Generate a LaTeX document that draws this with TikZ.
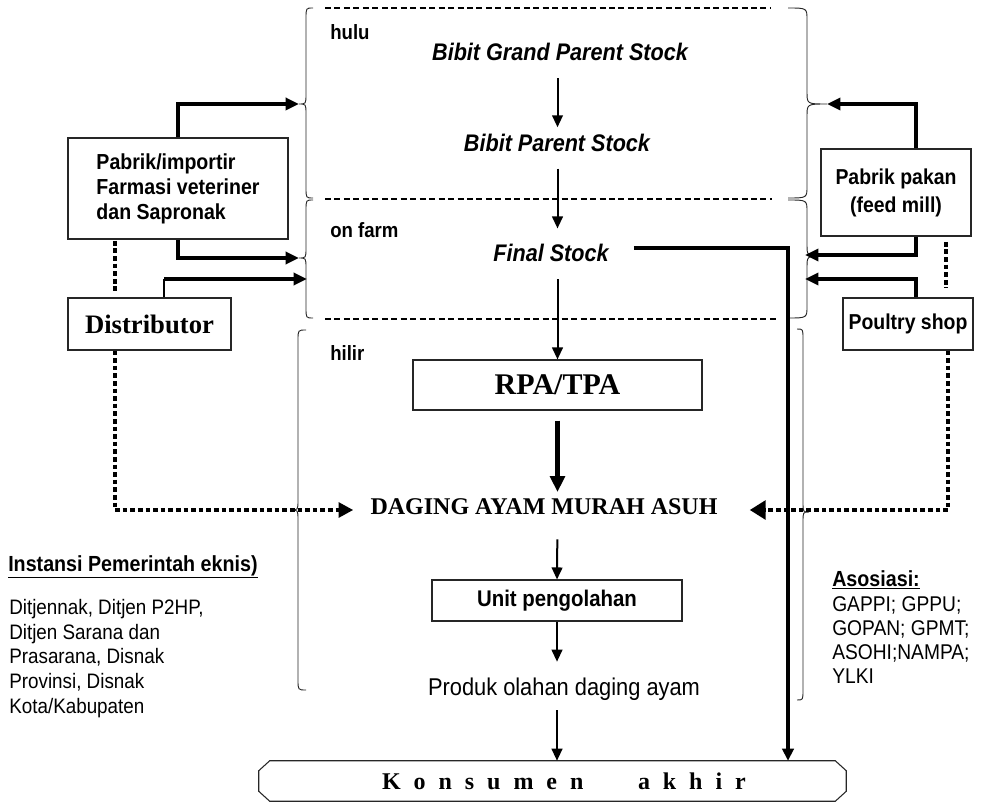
\documentclass[tikz,border=0pt]{standalone}
\usepackage{fontspec}
\setmainfont{Liberation Serif}
\newfontfamily\arialn[FakeStretch=0.9]{Liberation Sans}
\usetikzlibrary{arrows.meta}
\newcommand\sfs[2]{\arialn\fontsize{#1pt}{#2pt}\selectfont}
\newcommand\rms[2]{\rmfamily\fontsize{#1pt}{#2pt}\selectfont}
% xe, xv, xt, y1, ym, y2, r
\newcommand\mybrace[7]{\draw[bracel] ({#1},{#4}) .. controls ({#2},{#4}) .. ({#2},{#4+#7}) -- ({#2},{#5-#7}) .. controls ({#2},{#5}) .. ({#3},{#5}) .. controls ({#2},{#5}) .. ({#2},{#5+#7}) -- ({#2},{#6-#7}) .. controls ({#2},{#6}) .. ({#1},{#6});}
\begin{document}
\begin{tikzpicture}[x=0.75pt,y=-0.75pt,
  box/.style={draw=black!85,line width=0.8pt,inner sep=0pt},
  txt/.style={inner sep=0pt},
  arr/.style={line width=1.5pt,-{Triangle[length=9pt,width=8pt]}},
  tarr/.style={line width=3pt,-{Triangle[length=10pt,width=9pt]}},
  dotl/.style={line width=3.5pt,dash pattern=on 3.5pt off 2.2pt},
  dashl/.style={line width=0.9pt,dash pattern=on 4.5pt off 2.6pt},
  bracel/.style={line width=0.7pt,black!85}]
\useasboundingbox (0,0) rectangle (981,802);

% section labels
\node[txt,anchor=west,font=\sfs{15.5}{18}\bfseries] (hulu) at (330,32) {hulu};
\node[txt,anchor=west,font=\sfs{15.5}{18}\bfseries] (onfarm) at (330,230) {on farm};
\node[txt,anchor=west,font=\sfs{15.5}{18}\bfseries] (hilir) at (330,353) {hilir};

% main column
\node[txt,font=\sfs{18}{20}\bfseries\itshape] (gps) at (560,52) {Bibit Grand Parent Stock};
\node[txt,font=\sfs{18}{20}\bfseries\itshape] (ps) at (557,143) {Bibit Parent Stock};
\node[txt,font=\sfs{18}{20}\bfseries\itshape] (fs) at (551,253) {Final Stock};
\node[box,minimum width=216.75pt,minimum height=37.5pt,font=\rms{22.5}{24}\bfseries] (rpa) at (557.5,385) {RPA/TPA};
\node[txt,font=\rms{18}{20}\bfseries] (daging) at (544,507) {DAGING AYAM MURAH ASUH};
\node[box,minimum width=187.5pt,minimum height=30.75pt,font=\sfs{17}{19}\bfseries] (unit) at (557,600.5) {Unit pengolahan};
\node[txt,font=\sfs{18.2}{20}] (produk) at (564,689) {Produk olahan daging ayam};
\node[txt,minimum width=440.25pt,minimum height=30pt,font=\rms{18}{20}\bfseries] (kons) at (552.5,781)
  {\hspace*{17.2pt}K\kern9.7pt o\kern9.7pt n\kern9.7pt s\kern9.7pt u\kern9.7pt m\kern9.7pt e\kern9.7pt n\hspace{41pt}a\kern9.7pt k\kern9.7pt h\kern9.7pt i\kern9.7pt r};
\draw[box] ([xshift=8.25pt]kons.north west) -- ([xshift=-8.25pt]kons.north east) -- ([yshift=-7.5pt]kons.north east) -- ([yshift=7.5pt]kons.south east) -- ([xshift=-8.25pt]kons.south east) -- ([xshift=8.25pt]kons.south west) -- ([yshift=7.5pt]kons.south west) -- ([yshift=-7.5pt]kons.north west) -- cycle;

% side boxes
\node[box,minimum width=165pt,minimum height=75.75pt,align=left,font=\sfs{16.3}{18.75}\bfseries] (pab) at (178,188.5) {Pabrik/importir\\Farmasi veteriner\\dan Sapronak};
\node[box,minimum width=122.25pt,minimum height=39pt,font=\rms{20}{22}\bfseries] (dist) at (149.5,324) {Distributor};
\node[box,minimum width=112.5pt,minimum height=65.25pt,align=center,font=\sfs{16.2}{21}\bfseries] (pakan) at (896,192.5) {Pabrik pakan\\(feed mill)};
\node[box,minimum width=97.5pt,minimum height=39pt,font=\sfs{16.2}{18}\bfseries] (poultry) at (908,324) {Poultry shop};

% side texts
\node[txt,anchor=west,font=\sfs{16.4}{19}\bfseries] (inst) at (8,567) {\underline{Instansi Pemerintah eknis)}};
\node[txt,anchor=north west,align=left,font=\sfs{15.7}{18.5}] (gov) at (9,599) {Ditjennak, Ditjen P2HP,\\Ditjen Sarana dan\\Prasarana, Disnak\\Provinsi, Disnak\\Kota/Kabupaten};
\node[txt,anchor=west,font=\sfs{16.4}{19}\bfseries] (asos) at (832,580) {\underline{Asosiasi:}};
\node[txt,anchor=north west,align=left,font=\sfs{16}{18.2}] (assoc) at (832,596) {GAPPI; GPPU;\\GOPAN; GPMT;\\ASOHI;NAMPA;\\YLKI};

% coordinates
\coordinate (LhT) at (299,104);
\coordinate (LfT) at (299,258);
\coordinate (LfE) at (307,279);
\coordinate (dk) at (164,279);
\coordinate (ldx) at (115,0);
\coordinate (RhT) at (827,104);
\coordinate (RfE) at (805,255);
\coordinate (RfE2) at (805,279);
\coordinate (pkx) at (916,0);
\coordinate (pdx) at (946,0);
\coordinate (psx) at (948,0);
\coordinate (fsx) at (788,0);

% braces
\mybrace{313}{306}{299}{8}{104}{198}{10}
\mybrace{313}{306}{299}{200}{258}{318}{10}
\mybrace{306}{298}{291}{330}{510}{690}{10}
\mybrace{788}{807}{827}{8}{104}{198}{12}
\mybrace{788}{807}{822}{200}{256}{318}{12}
\mybrace{797}{803}{809}{329}{512}{700}{10}

% dashed separators
\draw[dashl] (325,8) -- (770,8);
\draw[dashl] (325,199) -- (772,199);
\draw[dashl] (325,319) -- (777,319);

% main flow
\draw[arr,shorten <=13pt,shorten >=5pt] (gps.south -| rpa) -- (ps.north -| rpa);
\draw[arr,shorten <=12.4pt,shorten >=11.6pt] (ps.south -| rpa) -- (fs.north -| rpa);
\draw[arr,shorten <=13pt] (fs.south -| rpa) -- (rpa.north);
\draw[line width=4pt,-{Triangle[length=12pt,width=11pt]},shorten <=7.5pt,shorten >=5pt] (rpa.south) -- (daging.north -| rpa);
\draw[arr,shorten <=18pt] (daging.south -| rpa) -- (unit.north);
\draw[arr,shorten >=11.8pt] (unit.south) -- (produk.north -| unit);
\draw[arr,shorten <=7.3pt] (produk.south -| unit) -- (kons.north -| unit);
\draw[line width=3pt,-{Triangle[length=9pt,width=8.5pt]}] ([xshift=18.75pt,yshift=3.75pt]fs.east) -| (kons.north -| fsx);

% left inputs
\draw[tarr] (pab.north) |- (LhT);
\draw[tarr] (pab.south) |- (LfT);
\draw[line width=0.8pt] (dist.north -| dk) -- (dk);
\draw[tarr] (dk) -- (LfE);
\draw[dotl,shorten <=1pt,shorten >=3pt] (pab.south -| ldx) -- (dist.north -| ldx);
\draw[dotl,-{Triangle[length=11pt,width=11pt]},shorten >=12.75pt] (dist.south -| ldx) |- ([yshift=-2.25pt]daging.west);

% right inputs
\draw[tarr] (pakan.north -| pkx) |- (RhT);
\draw[tarr] (pakan.south -| pkx) |- (RfE);
\draw[tarr] (poultry.north -| pkx) |- (RfE2);
\draw[dotl,shorten <=4pt,shorten >=7pt] (pakan.south -| pdx) -- (poultry.north -| pdx);
\draw[dotl,-{Triangle[length=12pt,width=14pt]},shorten >=24pt] (poultry.south -| psx) |- ([yshift=-2.25pt]daging.east);
\end{tikzpicture}
\end{document}
